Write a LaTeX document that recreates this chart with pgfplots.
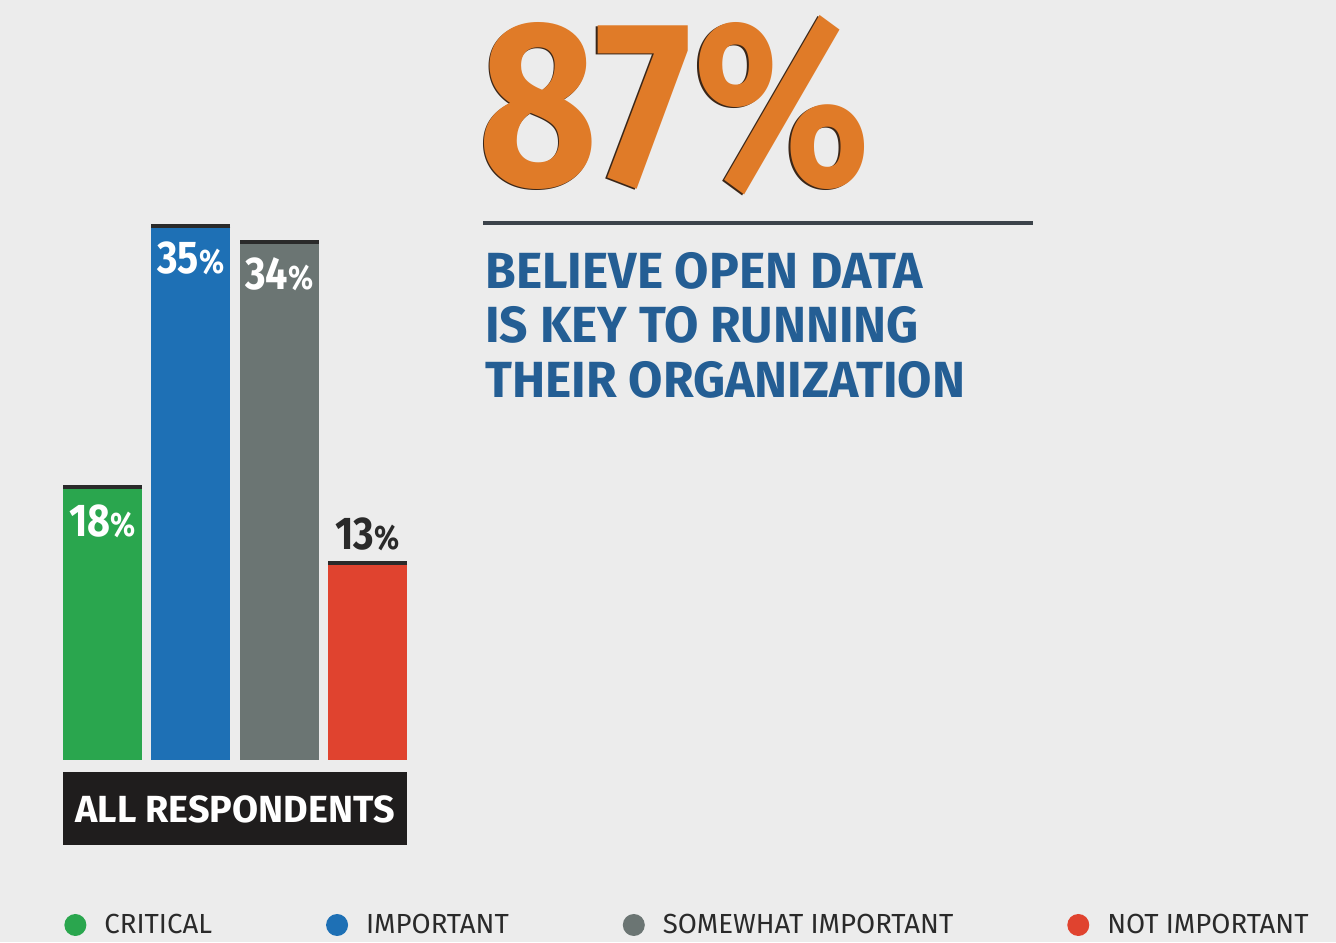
\documentclass[border=0pt]{standalone}
\usepackage{fontspec}
\setmainfont{Fira Sans}
\newfontfamily\narrow{Fira Sans}[FakeStretch=0.86]
\newfontfamily\titlefont{Fira Sans}[FakeStretch=0.98]
\usepackage{pgfplots}
\pgfplotsset{compat=1.18}

\definecolor{bg}{HTML}{ECECEC}
\definecolor{cgreen}{HTML}{2AA64E}
\definecolor{cblue}{HTML}{1E70B5}
\definecolor{cgray}{HTML}{6B7573}
\definecolor{cred}{HTML}{E0432F}
\definecolor{ctop}{HTML}{2A2A2A}
\definecolor{corange}{HTML}{E07B28}
\definecolor{cshadow}{HTML}{3A2618}
\definecolor{ctitle}{HTML}{245E94}
\definecolor{crule}{HTML}{3C434A}
\definecolor{cbox}{HTML}{1F1D1D}
\definecolor{ctext}{HTML}{2A2A2A}

\begin{document}
\begin{tikzpicture}
% page background (1px = 0.5pt, y downwards)
\fill[bg] (0pt,0pt) rectangle (668pt,-471pt);

% headline figure
\node[anchor=south west, inner sep=0pt, text=cshadow] at (238.3pt,-98.3pt)
  {\resizebox{196pt}{85pt}{\narrow\bfseries 87\%}};
\node[anchor=south west, inner sep=0pt, text=corange] at (239pt,-97.5pt)
  {\resizebox{196pt}{85pt}{\narrow\bfseries 87\%}};
\draw[crule, line width=1.6pt] (241.5pt,-111.5pt) -- (516.5pt,-111.5pt);

\begin{scope}[every node/.style={anchor=base west, inner sep=0pt, text=ctitle,
    font=\titlefont\fontsize{25.4}{25.4}\selectfont\bfseries}]
\node at (242.5pt,-144pt) {BELIEVE OPEN DATA};
\node at (242.5pt,-171pt) {IS KEY TO RUNNING};
\node at (242.5pt,-198.5pt) {THEIR ORGANIZATION};
\end{scope}

% category box
\fill[cbox] (31.5pt,-386pt) rectangle (203.5pt,-422.5pt);
\node[text=white, inner sep=0pt, font=\fontsize{18.9}{18.9}\selectfont\bfseries]
  at (117.5pt,-404.5pt) {ALL RESPONDENTS};

\begin{axis}[
  at={(29.15pt,-380pt)}, anchor=south west,
  scale only axis, width=176.7pt, height=280pt,
  xmin=-0.5, xmax=3.5, ymin=0, ymax=36.6,
  hide axis, clip=false,
  legend columns=4,
  legend style={at={(axis description cs:0.016,-0.2946)}, anchor=west,
    draw=none, fill=none, inner sep=0pt,
    font=\fontsize{13.8}{13.8}\selectfont, text=ctext,
    cells={anchor=west},
    /tikz/every odd column/.append style={column sep=7pt},
    /tikz/every even column/.append style={column sep=55pt}},
  every node near coord/.append style={inner sep=0pt,
    font=\narrow\fontsize{23}{23}\selectfont\bfseries},
]
\addplot[ybar, bar width=0.894, bar shift=0pt, fill=cgreen, draw=none,
  legend image code/.code={\fill[cgreen] (0pt,0pt) circle (5.5pt);},
  nodes near coords={18{\fontsize{17}{17}\selectfont\%}},
  nodes near coords align={anchor=north},
  every node near coord/.append style={text=white, yshift=-10pt}]
  coordinates {(0,18)};
\addlegendentry{CRITICAL}
\addplot[ybar, bar width=0.894, bar shift=0pt, fill=cblue, draw=none,
  legend image code/.code={\fill[cblue] (0pt,0pt) circle (5.5pt);},
  nodes near coords={35{\fontsize{17}{17}\selectfont\%}},
  nodes near coords align={anchor=north},
  every node near coord/.append style={text=white, yshift=-8.5pt}]
  coordinates {(1,35)};
\addlegendentry{IMPORTANT}
\addplot[ybar, bar width=0.894, bar shift=0pt, fill=cgray, draw=none,
  legend image code/.code={\fill[cgray] (0pt,0pt) circle (5.5pt);},
  nodes near coords={34{\fontsize{17}{17}\selectfont\%}},
  nodes near coords align={anchor=north},
  every node near coord/.append style={text=white, yshift=-8.5pt}]
  coordinates {(2,34)};
\addlegendentry{SOMEWHAT IMPORTANT}
\addplot[ybar, bar width=0.894, bar shift=0pt, fill=cred, draw=none,
  legend image code/.code={\fill[cred] (0pt,0pt) circle (5.5pt);},
  nodes near coords={13{\fontsize{17}{17}\selectfont\%}},
  nodes near coords align={anchor=south},
  every node near coord/.append style={text=ctext, yshift=5pt}]
  coordinates {(3,13)};
\addlegendentry{NOT IMPORTANT}
% dark top edge of each bar
\addplot[forget plot, only marks, mark=-, mark size=19.75pt,
  mark options={line width=2pt, draw=ctop, yshift=-1pt}]
  coordinates {(0,18) (1,35) (2,34) (3,13)};
\end{axis}
\end{tikzpicture}
\end{document}
